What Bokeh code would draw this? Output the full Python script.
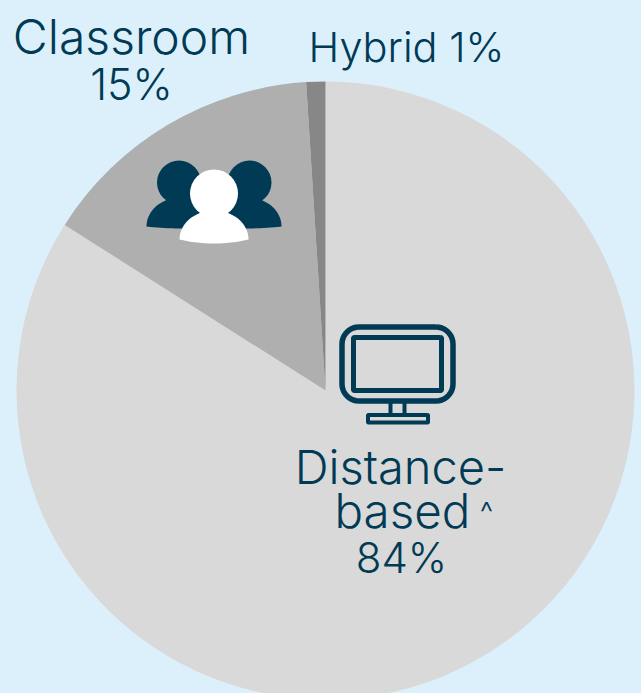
from math import pi
import numpy as np
from bokeh.plotting import figure
from bokeh.models import Range1d
from bokeh.core.properties import value
from bokeh.embed import file_html
from bokeh.resources import INLINE

categories = ["Distance-based", "Classroom", "Hybrid"]
shares = [84, 15, 1]
colors = ["#d9d9d9", "#afafaf", "#878787"]

BG = "#dcf0fb"
INK = "#003a54"
FONT = "Inter Light"

p = figure(width=641, height=693, output_backend="svg", toolbar_location=None,
           x_range=Range1d(0, 641), y_range=Range1d(-693, 0),
           min_border=0, outline_line_color=None, background_fill_color=BG,
           border_fill_color=BG)
p.axis.visible = False
p.grid.visible = False

# pie: starts at 12 o'clock and runs clockwise
cx, cy, r = 325, -390, 309
frac = np.cumsum([0] + shares) / sum(shares)
for i, c in enumerate(categories):
    p.wedge(x=cx, y=cy, radius=r,
            start_angle=pi / 2 - 2 * pi * frac[i + 1],
            end_angle=pi / 2 - 2 * pi * frac[i],
            fill_color=colors[i], line_color=None)


def dome(xl, xr, ytop, ybot, sag):
    t = np.linspace(pi, 0, 40)
    mx, rx = (xl + xr) / 2, (xr - xl) / 2
    xs = list(mx + rx * np.cos(t))
    ys = list(ybot - (ybot - ytop) * np.sin(t))
    u = np.linspace(1, -1, 20)
    xs += list(mx + rx * u)
    ys += list(ybot + sag * (1 - u ** 2))
    return xs, [-v for v in ys]


def rrect(x0, y0, x1, y1, rad):
    xs, ys = [], []
    for (ax, ay, a0) in [(x1 - rad, y0 + rad, -pi / 2), (x1 - rad, y1 - rad, 0),
                         (x0 + rad, y1 - rad, pi / 2), (x0 + rad, y0 + rad, pi)]:
        t = np.linspace(a0, a0 + pi / 2, 10)
        xs += list(ax + rad * np.cos(t))
        ys += list(ay + rad * np.sin(t))
    return xs + xs[:1], [-v for v in ys + ys[:1]]


# people icon
for hx, bl, br in [(178.5, 146, 214), (249, 213, 281)]:
    p.patch(*dome(bl, br, 197, 226, 2), fill_color=INK, line_color=None)
    p.ellipse(x=hx, y=-182, width=44, height=44, fill_color=INK, line_color=None)
p.ellipse(x=213.5, y=-193, width=48, height=48, fill_color="#ffffff", line_color=None)
p.patch(*dome(179, 248, 210, 239, 4), fill_color="#ffffff", line_color=None)

# monitor icon
p.line(*rrect(341.5, 326.5, 452.5, 400.5, 17), line_color=INK, line_width=5.5)
p.line(*rrect(353, 337, 441, 390, 1), line_color=INK, line_width=5)
for sx in (390, 404):
    p.line([sx, sx], [-402, -414], line_color=INK, line_width=4)
p.line(*rrect(367.5, 414.5, 427.5, 422, 0.5), line_color=INK, line_width=4)

labels = ["Classroom", "15%", "Hybrid 1%", "Distance-", "based", "^", "84%"]
label_x = [131, 131, 406, 400, 334, 486, 401]
label_y = [36, 83, 46, 466, 510, 511, 557]
label_size = [48, 43, 41.5, 47, 47.5, 30, 42]
label_align = ["center", "center", "center", "center", "left", "center", "center"]
for t, x, y, s, a in zip(labels, label_x, label_y, label_size, label_align):
    p.text(x=[x], y=[-y], text=[t], text_color=INK, text_font=value(FONT),
           text_font_size=f"{s}px", text_align=a, text_baseline="alphabetic")

html = file_html(p, INLINE)
html = html.replace("</head>", f"<style>html,body{{background:{BG};overflow:hidden}}</style></head>", 1)
open("out.html", "w").write(html)
